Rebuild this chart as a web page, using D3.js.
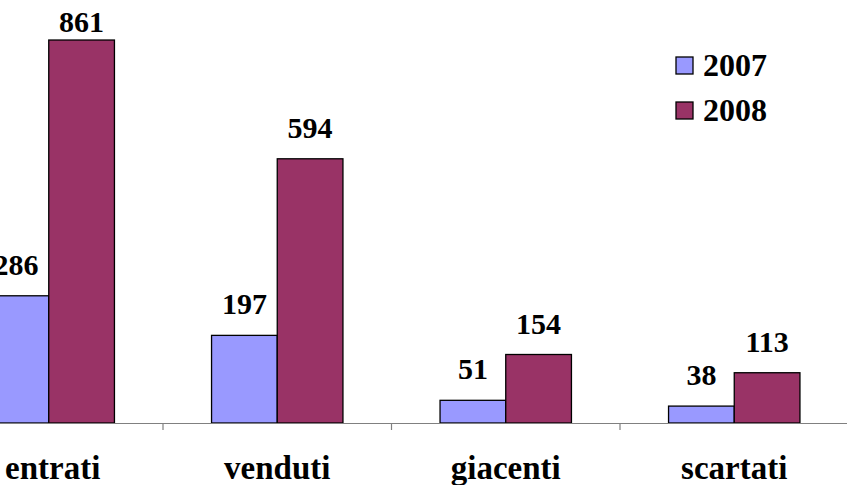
<!DOCTYPE html>
<html><head><meta charset="utf-8">
<script src="https://cdn.jsdelivr.net/npm/d3@7"></script>
<style>body{margin:0;background:#fff}svg{display:block}</style>
</head><body>
<script>
const categories = ["entrati", "venduti", "giacenti", "scartati"];
const seriesNames = ["2007", "2008"];
const values2007 = [286, 197, 51, 38];
const values2008 = [861, 594, 154, 113];
const colors = ["#9999FF", "#993366"];

const W = 847, H = 485;
const font = "'Palatino Linotype','Book Antiqua',Palatino,'Liberation Serif',serif";
const svg = d3.select("body").append("svg").attr("width", W).attr("height", H);

const baseY = 423;
const x = d3.scaleBand().domain(categories).range([-65.5, 848.5]).paddingInner(0).paddingOuter(0);
const inner = d3.scaleBand().domain(seriesNames).range([0, x.bandwidth()]).paddingOuter(0.739).paddingInner(0);
const y = d3.scaleLinear().domain([0, 900]).range([baseY, baseY - 900 * 0.4448]);

const data = categories.map((c, i) => ({cat: c, vals: [values2007[i], values2008[i]]}));

const g = svg.append("g");
data.forEach(d => {
  d.vals.forEach((v, j) => {
    const bx = x(d.cat) + inner(seriesNames[j]);
    g.append("rect").attr("x", bx).attr("y", y(v)).attr("width", inner.bandwidth()).attr("height", baseY - y(v))
      .attr("fill", colors[j]).attr("stroke", "#000").attr("stroke-width", 1.3);
    g.append("text").attr("x", bx + inner.bandwidth() / 2).attr("y", Math.max(y(v) - 21, 32))
      .attr("text-anchor", "middle").attr("font-family", font).attr("font-weight", "bold")
      .attr("font-size", 30).attr("fill", "#000").text(v);
  });
});

// axis
const axis = svg.append("g").attr("transform", `translate(0,${baseY})`)
  .call(d3.axisBottom(x).tickSize(0).tickFormat(""));
axis.select(".domain").attr("stroke", "#808080").attr("stroke-width", 1.2);
axis.selectAll(".tick").remove();
const bounds = categories.slice(1).map(c => x(c));
axis.selectAll(".bt").data(bounds).enter().append("line")
  .attr("x1", d => d).attr("x2", d => d).attr("y1", 0).attr("y2", 7)
  .attr("stroke", "#808080").attr("stroke-width", 1.2);
axis.selectAll(".cl").data(categories).enter().append("text")
  .attr("x", d => x(d) + x.bandwidth() / 2).attr("y", 56)
  .attr("text-anchor", "middle").attr("font-family", font).attr("font-weight", "bold")
  .attr("font-size", 33).attr("fill", "#000").text(d => d)
  .each(function() {
    const w = this.getComputedTextLength();
    const cx = +this.getAttribute("x");
    if (cx - w / 2 < 5) this.setAttribute("x", 5 + w / 2);
  });

// legend
const leg = svg.append("g");
seriesNames.forEach((s, i) => {
  const ly = 57 + i * 45;
  leg.append("rect").attr("x", 676).attr("y", ly).attr("width", 17).attr("height", 17)
    .attr("fill", colors[i]).attr("stroke", "#000").attr("stroke-width", 1.3);
  leg.append("text").attr("x", 703).attr("y", ly + 19).attr("font-family", font).attr("font-weight", "bold")
    .attr("font-size", 32).attr("fill", "#000").text(s);
});
</script>
</body></html>
